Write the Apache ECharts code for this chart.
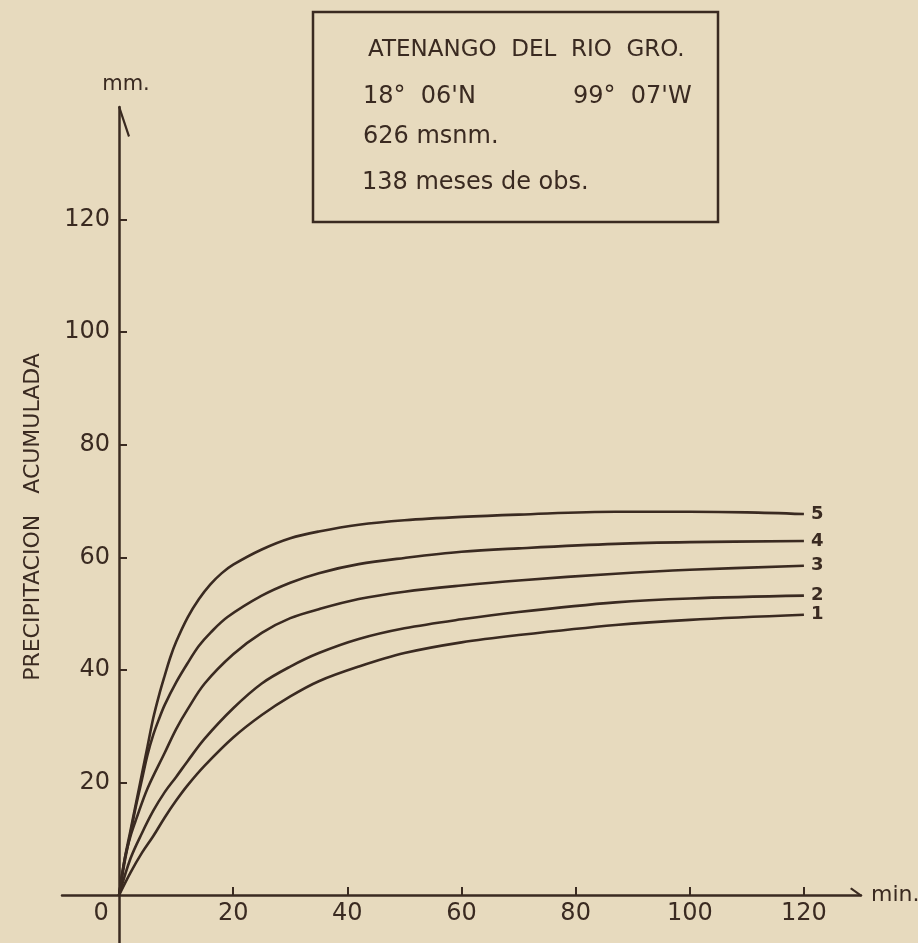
<!DOCTYPE html>
<html>
<head>
<meta charset="utf-8">
<script src="https://cdn.jsdelivr.net/npm/echarts@6/dist/echarts.min.js"></script>
<style>
  html, body { margin: 0; padding: 0; background: #e7dabe; }
  #chart { width: 918px; height: 943px; }
</style>
</head>
<body>
<div id="chart"></div>
<script>
// minutes vs accumulated precipitation (mm)
const curve1 = [[0, 0], [2, 4], [4, 7.5], [6, 10.5], [8, 13.8], [10, 16.8], [12, 19.5], [15, 23], [20, 28], [25, 32], [30, 35.3], [35, 38], [42, 40.6], [50, 43], [60, 44.9], [70, 46.2], [87, 48], [100, 48.9], [120, 49.8]];
const curve2 = [[0, 0], [2, 6.5], [4, 11], [6, 15], [8, 18.3], [10, 21], [12, 23.8], [15, 27.8], [20, 33.2], [25, 37.6], [30, 40.6], [35, 43], [42, 45.5], [50, 47.4], [60, 49], [70, 50.3], [87, 52], [100, 52.7], [120, 53.2]];
const curve3 = [[0, 0], [1, 6.5], [2, 10.5], [3, 13.5], [5, 19], [8, 25.3], [10, 29.5], [12, 33], [15, 37.6], [20, 42.8], [25, 46.6], [30, 49.2], [35, 50.8], [42, 52.6], [50, 53.9], [60, 55], [70, 55.9], [87, 57.1], [100, 57.8], [120, 58.5]];
const curve4 = [[0, 0], [1, 6], [2, 11], [3, 16], [4, 20.5], [5, 25], [6, 28.5], [7, 31.3], [8, 33.8], [10, 37.8], [12, 41.2], [14, 44.3], [16, 46.6], [19, 49.4], [25, 53.2], [30, 55.5], [35, 57.2], [42, 58.8], [50, 59.9], [60, 61], [70, 61.6], [87, 62.4], [100, 62.7], [120, 62.9]];
const curve5 = [[0, 0], [1, 6.5], [2, 11.5], [3, 16.5], [4, 21.5], [5, 26.5], [6, 31.5], [7, 35.5], [8, 39], [9, 42.3], [10, 45], [12, 49.3], [14, 52.6], [16, 55.2], [18, 57.2], [20, 58.7], [25, 61.4], [30, 63.4], [35, 64.6], [42, 65.8], [50, 66.6], [60, 67.2], [70, 67.6], [87, 68.1], [100, 68.1], [110, 68], [120, 67.7]];

const curveNames = ['1', '2', '3', '4', '5'];
const xTicks = [0, 20, 40, 60, 80, 100, 120];
const yTicks = [20, 40, 60, 80, 100, 120];

const boxLines = ['ATENANGO  DEL  RIO  GRO.', '18°  06\'N', '99°  07\'W', '626 msnm.', '138 meses de obs.'];

const ink = '#3a2a21';
const font = 'DejaVu Sans';

const chart = echarts.init(document.getElementById('chart'));

const makeSeries = (name, data) => ({
  name,
  type: 'line',
  data,
  smooth: 0.35,
  showSymbol: false,
  silent: true,
  lineStyle: { color: ink, width: 2.6 },
  endLabel: {
    show: true,
    formatter: '{a}',
    distance: 7,
    color: ink,
    fontFamily: font,
    fontWeight: 'bold',
    fontSize: 18
  }
});

chart.setOption({
  backgroundColor: '#e7dabe',
  animation: false,
  grid: { left: 62, right: 57, top: 107, bottom: 0, outerBoundsMode: 'none' },
  xAxis: {
    type: 'value',
    min: -10,
    max: 130,
    position: 'bottom',
    offset: -48,
    name: 'min.',
    nameLocation: 'end',
    nameGap: 10,
    nameTextStyle: { color: ink, fontFamily: font, fontSize: 22 },
    splitLine: { show: false },
    axisLine: {
      onZero: false,
      symbol: ['none', 'path://M7.5,-11 L7.5,-11 Z M0,-1 L1.5,0.5 L-6,11 L-7.5,9.5 Z'],
      symbolSize: [15, 22],
      lineStyle: { color: ink, width: 2.5 }
    },
    axisTick: { show: true, inside: true, length: 8, customValues: xTicks.slice(1), lineStyle: { color: ink, width: 2 } },
    axisLabel: {
      customValues: xTicks,
      margin: 7,
      color: ink,
      fontFamily: font,
      fontSize: 24,
      formatter: v => (v === 0 ? '{z|0}' : String(v)),
      rich: { z: { padding: [0, 36, 0, 0], fontFamily: font, fontSize: 24, color: ink } }
    }
  },
  yAxis: {
    type: 'value',
    min: -8.5,
    max: 140,
    position: 'left',
    offset: -57,
    name: 'mm.',
    nameLocation: 'end',
    nameGap: 12,
    nameTextStyle: { color: ink, fontFamily: font, fontSize: 21, padding: [0, 0, 0, 14] },
    splitLine: { show: false },
    axisLine: {
      onZero: false,
      symbol: ['none', 'path://M-11,-30 L-11,-30 Z M-1,0 L1,-1 L11,29 L9,30 Z'],
      symbolSize: [22, 60],
      lineStyle: { color: ink, width: 2.5 }
    },
    axisTick: { show: true, inside: true, length: 8, customValues: yTicks, lineStyle: { color: ink, width: 2 } },
    axisLabel: { customValues: yTicks, margin: 9, color: ink, fontFamily: font, fontSize: 24 }
  },
  series: [
    makeSeries(curveNames[0], curve1),
    makeSeries(curveNames[1], curve2),
    makeSeries(curveNames[2], curve3),
    makeSeries(curveNames[3], curve4),
    makeSeries(curveNames[4], curve5)
  ],
  graphic: [
    {
      type: 'rect',
      shape: { x: 313, y: 12, width: 405, height: 210 },
      style: { fill: 'none', stroke: ink, lineWidth: 2.5 }
    },
    { type: 'text', x: 368, y: 50, style: { text: boxLines[0], fill: ink, font: `23px "${font}"`, verticalAlign: 'middle' } },
    { type: 'text', x: 363, y: 97, style: { text: boxLines[1], fill: ink, font: `24px "${font}"`, verticalAlign: 'middle' } },
    { type: 'text', x: 573, y: 97, style: { text: boxLines[2], fill: ink, font: `24px "${font}"`, verticalAlign: 'middle' } },
    { type: 'text', x: 363, y: 137, style: { text: boxLines[3], fill: ink, font: `24px "${font}"`, verticalAlign: 'middle' } },
    { type: 'text', x: 362, y: 183, style: { text: boxLines[4], fill: ink, font: `24px "${font}"`, verticalAlign: 'middle' } },
    {
      type: 'text',
      x: 33,
      y: 517,
      rotation: Math.PI / 2,
      style: { text: 'PRECIPITACION   ACUMULADA', fill: ink, font: `22px "${font}"`, align: 'center', verticalAlign: 'middle' }
    }
  ]
});
</script>
</body>
</html>
